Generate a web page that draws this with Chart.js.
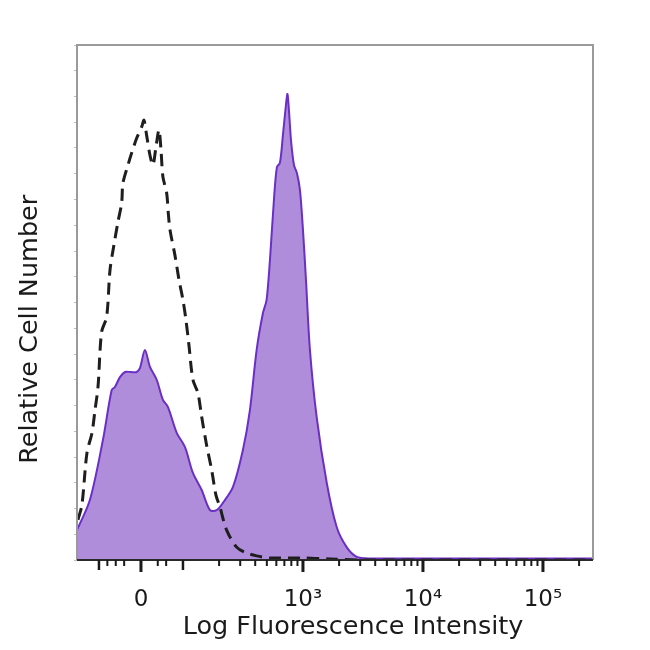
<!DOCTYPE html>
<html>
<head>
<meta charset="utf-8">
<script src="https://cdn.jsdelivr.net/npm/chart.js@4"></script>
<style>
html,body{margin:0;padding:0;background:#fff;}
#wrap{width:650px;height:650px;}
</style>
</head>
<body>
<div id="wrap"><canvas id="c" width="650" height="650"></canvas></div>
<script>
// ---- data (x in display/channel units: decades, 3 = 10^3; y = relative count, 0..100) ----
const stainedX = [1.117,1.225,1.333,1.406,1.433,1.475,1.517,1.567,1.614,1.642,1.683,1.725,1.781,1.833,1.875,1.948,2.017,2.083,2.156,2.225,2.281,2.333,2.417,2.500,2.558,2.614,2.667,2.697,2.725,2.758,2.783,2.808,2.833,2.858,2.871,2.883,2.900,2.925,2.950,2.975,3.000,3.025,3.058,3.114,3.198,3.281,3.364,3.448,3.558,4.000,4.500,5.000,5.417];
const stainedY = [5.8,11.7,23.3,33.0,33.6,35.5,36.5,36.5,36.5,37.3,40.8,37.5,35.0,31.1,29.7,24.7,21.9,16.9,13.6,9.7,9.7,11.1,14.2,21.4,29.1,40.8,48.0,50.5,58.3,69.9,76.3,77.1,82.5,88.3,90.5,87.4,81.6,76.7,75.1,71.8,64.1,54.4,40.8,27.8,15.0,6.4,2.5,0.6,0.3,0.3,0.3,0.3,0.3];
const controlX = [1.125,1.158,1.200,1.242,1.267,1.292,1.322,1.364,1.392,1.425,1.458,1.489,1.500,1.542,1.572,1.614,1.656,1.675,1.697,1.725,1.750,1.775,1.800,1.817,1.833,1.864,1.879,1.892,1.933,1.967,2.000,2.025,2.050,2.083,2.125,2.156,2.197,2.239,2.275,2.308,2.364,2.447,2.525,2.614,2.725,2.975,3.225,3.475,5.417];
const controlY = [7.8,10.7,20.8,24.7,29.1,33.6,44.3,47.2,56.3,61.2,65.6,69.3,73.2,76.7,79.0,81.9,84.1,85.4,82.5,78.6,76.7,80.2,83.5,79.6,74.4,71.3,67.0,64.1,59.2,54.4,50.5,46.6,41.7,35.0,32.4,27.8,22.3,17.5,12.6,10.3,5.8,2.5,1.4,0.8,0.4,0.4,0.2,0.0,0.0];

// ---- axis tick values (data units) and labels ----
const majorTickValues = [0, 1000, 10000, 100000];
const majorTickLabels = ['0', '10\u00B3', '10\u2074', '10\u2075'];
const mediumTickValues = [-100, 100];
const minorTickValues = [-80,-60,-40,40,60,200,300,400,500,600,700,800,900,2000,3000,4000,5000,6000,7000,8000,9000,20000,30000,40000,50000,60000,70000,80000,90000,200000];
const xTitle = 'Log Fluorescence Intensity';
const yTitle = 'Relative Cell Number';

// display transform (linear near zero, log above 100)
const ZERO_POS = 1.65;
function toDisplay(v){
  if (v >= 100) return Math.log10(v);
  return 2 + (v - 100) * (2 - ZERO_POS) / 100;
}

const xMin = 1.117, xMax = 5.417;

const pts = (xs, ys) => xs.map((x, i) => ({x, y: ys[i]}));

const frameAndTicks = {
  id: 'frameAndTicks',
  afterDraw(chart){
    const ctx = chart.ctx, a = chart.chartArea, xs = chart.scales.x;
    ctx.save();
    // gray frame top/right/left
    ctx.strokeStyle = '#9a9a9a';
    ctx.lineWidth = 2;
    ctx.beginPath();
    ctx.moveTo(a.left, a.bottom);
    ctx.lineTo(a.left, a.top);
    ctx.lineTo(a.right, a.top);
    ctx.lineTo(a.right, a.bottom);
    ctx.stroke();
    // bottom axis line
    ctx.strokeStyle = '#2a2a2a';
    ctx.beginPath();
    ctx.moveTo(a.left, a.bottom);
    ctx.lineTo(a.right, a.bottom);
    ctx.stroke();
    ctx.strokeStyle = '#1a1a1a';
    const draw = (vals, len, w) => {
      ctx.lineWidth = w;
      vals.forEach(v => {
        const px = xs.getPixelForValue(toDisplay(v));
        if (px < a.left - 1 || px > a.right + 1) return;
        ctx.beginPath();
        ctx.moveTo(px, a.bottom);
        ctx.lineTo(px, a.bottom + len);
        ctx.stroke();
      });
    };
    draw(minorTickValues, 6, 2);
    draw(mediumTickValues, 10, 2.5);
    draw(majorTickValues, 12, 3);

    // axis titles
    ctx.fillStyle = '#1a1a1a';
    ctx.font = '25.5px "DejaVu Sans"';
    ctx.textAlign = 'center';
    ctx.textBaseline = 'alphabetic';
    ctx.fillText(xTitle, a.left + (a.right - a.left) * 0.535, a.bottom + 74);
    ctx.translate(a.left - 40, a.top + (a.bottom - a.top) * 0.552);
    ctx.rotate(-Math.PI / 2);
    ctx.fillText(yTitle, 0, 0);
    ctx.restore();
  }
};

new Chart(document.getElementById('c'), {
  type: 'line',
  data: {
    datasets: [
      {
        label: 'Isotype control',
        data: pts(controlX, controlY),
        borderColor: '#1e1e1e',
        borderWidth: 3,
        borderDash: [12, 7],
        fill: false,
        pointRadius: 0,
        tension: 0.3,
        order: 0
      },
      {
        label: 'Stained',
        data: pts(stainedX, stainedY),
        borderColor: '#6a2fc4',
        backgroundColor: '#b08ddb',
        borderWidth: 2,
        fill: 'origin',
        pointRadius: 0,
        tension: 0.3,
        order: 1
      }
    ]
  },
  options: {
    responsive: false,
    animation: false,
    events: [],
    layout: { padding: { top: 45, right: 57, left: 0, bottom: 0 } },
    plugins: { legend: { display: false }, tooltip: { enabled: false } },
    scales: {
      x: {
        type: 'linear',
        min: xMin,
        max: xMax,
        afterFit: s => { s.height = 90; },
        afterBuildTicks: s => { s.ticks = majorTickValues.map(v => ({ value: toDisplay(v) })); },
        grid: { display: false, drawTicks: false },
        border: { display: false },
        ticks: {
          autoSkip: false,
          maxRotation: 0,
          padding: 26,
          color: '#1a1a1a',
          font: { family: 'DejaVu Sans', size: 23 },
          callback: (val, i) => majorTickLabels[i]
        },
        title: { display: false }
      },
      y: {
        type: 'linear',
        min: 0,
        max: 100,
        afterFit: s => { s.width = 77; },
        grid: { drawOnChartArea: false, drawTicks: true, tickLength: 3, color: '#bdbdbd' },
        border: { display: false },
        ticks: { display: true, stepSize: 5, callback: () => '', padding: 0 },
        title: { display: false }
      }
    }
  },
  plugins: [frameAndTicks]
});
</script>
</body>
</html>
